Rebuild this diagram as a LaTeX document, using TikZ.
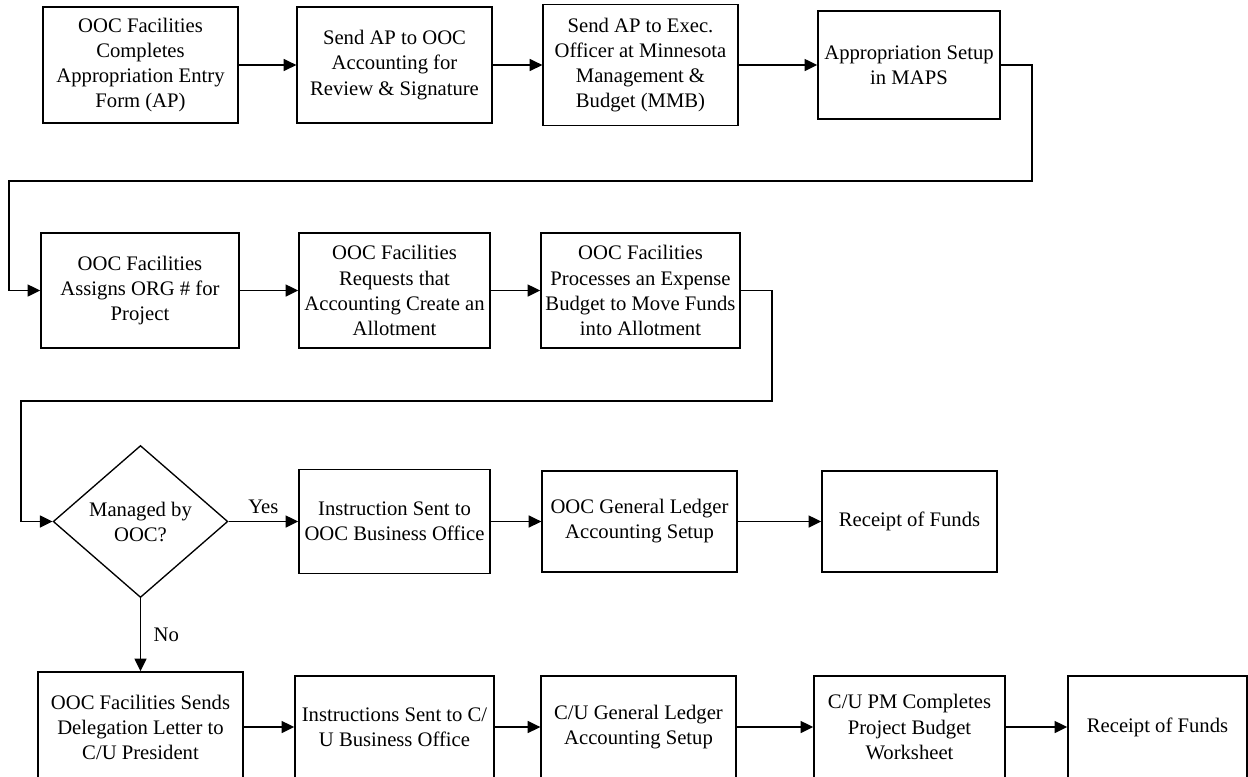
\documentclass[tikz,border=0pt]{standalone}
\usepackage{fontspec}
\setmainfont{Liberation Serif}
\usetikzlibrary{arrows.meta, positioning, shapes.geometric}

\begin{document}
\begin{tikzpicture}[x=0.75pt, y=-0.75pt,
            font=\fontsize{15.5}{18.8}\selectfont,
            stepbox/.style={draw, line width=1.2pt, align=center, inner sep=2pt,
                minimum width=146pt, minimum height=87pt},
            decision/.style={draw, diamond, line width=1pt, align=center, inner sep=0pt,
                minimum width=131pt, minimum height=114pt},
            flow/.style={-{Triangle[length=9.5pt, width=9pt]}, line width=1.2pt}]

            \clip (0,0) rectangle (1248,776);

            % Appropriation
            \node[stepbox] (entry) at (140.5,65) {OOC Facilities\\Completes\\Appropriation Entry\\Form (AP)};
            \node[stepbox] (review) at (394.5,65) {Send AP to OOC\\Accounting for\\Review \& Signature};
            \node[stepbox, minimum height=90.75pt] (mmb) at (640.5,65) {Send AP to Exec.\\Officer at Minnesota\\Management \&\\Budget (MMB)};
            \node[stepbox, minimum width=136.5pt, minimum height=81pt] (maps) at (909,65) {Appropriation Setup\\in MAPS};

            % Allotment
            \node[stepbox, minimum width=148.5pt, minimum height=86.25pt] (org) at (140,290.5) {OOC Facilities\\Assigns ORG \# for\\Project};
            \node[stepbox, minimum width=143.25pt, minimum height=86.25pt] (allot) at (394.5,290.5) {OOC Facilities\\Requests that\\Accounting Create an\\Allotment};
            \node[stepbox, minimum width=149.25pt, minimum height=86.25pt] (expense) at (640.5,290.5) {OOC Facilities\\Processes an Expense\\Budget to Move Funds\\into Allotment};

            % Managed by OOC
            \node[decision] (managed) at (140.5,521.5) {Managed by\\OOC?};
            \node[stepbox, minimum width=143.25pt, minimum height=78pt] (oocoffice) at (394.5,521.5) {Instruction Sent to\\OOC Business Office};
            \node[stepbox, minimum height=75.75pt] (oocledger) at (639.5,521.5) {OOC General Ledger\\Accounting Setup};
            \node[stepbox, minimum width=131.25pt, minimum height=75.75pt] (oocfunds) at (909.5,521.5) {Receipt of Funds};

            % Managed by C/U
            \node[stepbox, minimum width=153.75pt, minimum height=82.5pt] (letter) at (140.5,727) {OOC Facilities Sends\\Delegation Letter to\\C/U President};
            \node[stepbox, minimum width=149.25pt, minimum height=76.5pt] (cuoffice) at (394.5,727) {Instructions Sent to C/\\U Business Office};
            \node[stepbox, minimum height=76.5pt] (culedger) at (638.5,727) {C/U General Ledger\\Accounting Setup};
            \node[stepbox, minimum width=143.25pt, minimum height=76.5pt] (worksheet) at (909.5,727) {C/U PM Completes\\Project Budget\\Worksheet};
            \node[stepbox, minimum width=134.25pt, minimum height=76.5pt] (cufunds) at (1157.5,727) {Receipt of Funds};

            % Step arrows
            \foreach \a/\b in {entry/review, review/mmb, mmb/maps, org/allot, allot/expense,
                    oocoffice/oocledger, oocledger/oocfunds,
                    letter/cuoffice, cuoffice/culedger, culedger/worksheet, worksheet/cufunds} {
                \draw[flow] (\a) -- (\b);
            }

            % Row returns
            \draw[flow] (maps.east) -- ++(31,0) |- (9,181) |- (org.west);
            \draw[flow] (expense.east) -- ++(31,0) |- (21,401) |- (managed.west);

            % Decision branches
            \draw[flow] (managed) -- (oocoffice) node[midway, above=2pt] {Yes};
            \draw[flow] (managed) -- (letter) node[midway, right=6pt] {No};
        \end{tikzpicture}
\end{document}
